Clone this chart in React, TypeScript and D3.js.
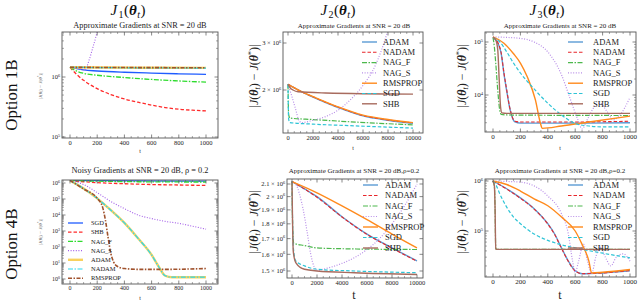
import React from "react";
import * as d3 from "d3";

type Pt = [number, number];

// ---------- data: [t, |J(θt) − J(θ*)|] ----------
const names4B = ["SGD", "SHB", "NAG_F", "NAG_S", "ADAM", "NADAM", "RMSPROP"];
const namesStd = ["ADAM", "NADAM", "NAG_F", "NAG_S", "RMSPROP", "SGD", "SHB"];

const ticks1k = [0, 200, 400, 600, 800, 1000];
const ticks10k = [0, 2000, 4000, 6000, 8000, 10000];

// J1, option 1B
const j1a_SGD: Pt[] = [[0, 1.45e6], [50, 1.38e6], [100, 1.31e6], [200, 1.26e6], [400, 1.2e6], [600, 1.16e6], [800, 1.13e6], [1000, 1.11e6]];
const j1a_SHB: Pt[] = [[0, 1.45e6], [50, 1.1e6], [100, 8.8e5], [200, 6.4e5], [300, 5.1e5], [400, 4.3e5], [500, 3.8e5], [600, 3.4e5], [700, 3.1e5], [800, 2.9e5], [900, 2.8e5], [1000, 2.72e5]];
const j1a_NAGF: Pt[] = [[0, 1.45e6], [50, 1.25e6], [100, 1.15e6], [200, 1.07e6], [400, 9.8e5], [600, 9.1e5], [800, 8.6e5], [1000, 8.2e5]];
const j1a_NAGS: Pt[] = [[0, 1.45e6], [60, 1.38e6], [110, 1.3e6], [140, 1.9e6], [170, 3.2e6], [200, 5.6e6]];
const j1a_ADAM: Pt[] = [[0, 1.45e6], [500, 1.43e6], [1000, 1.42e6]];
const j1a_NADAM: Pt[] = [[0, 1.45e6], [500, 1.42e6], [1000, 1.41e6]];
const j1a_RMSPROP: Pt[] = [[0, 1.45e6], [500, 1.435e6], [1000, 1.425e6]];

// J2, option 1B
const j2a_ADAM: Pt[] = [[0, 2.1e6], [1000, 1.98e6], [2000, 1.88e6], [4000, 1.72e6], [6000, 1.6e6], [8000, 1.54e6], [10000, 1.5e6]];
const j2a_NADAM: Pt[] = [[0, 2.1e6], [1000, 1.98e6], [2000, 1.885e6], [4000, 1.725e6], [6000, 1.605e6], [8000, 1.545e6], [10000, 1.505e6]];
const j2a_NAGF: Pt[] = [[0, 2.1e6], [50, 1.62e6], [150, 1.57e6], [2000, 1.55e6], [5000, 1.52e6], [10000, 1.48e6]];
const j2a_NAGS: Pt[] = [[0, 2.1e6], [300, 1.9e6], [600, 1.7e6], [900, 1.53e6], [1100, 1.51e6], [2000, 1.54e6], [3000, 1.59e6], [4000, 1.68e6], [5000, 1.84e6], [6000, 2.08e6], [7000, 2.48e6], [7500, 2.84e6], [8000, 3.35e6]];
const j2a_RMSPROP: Pt[] = [[0, 2.1e6], [1000, 1.98e6], [2000, 1.89e6], [4000, 1.73e6], [6000, 1.61e6], [8000, 1.55e6], [10000, 1.51e6]];
const j2a_SGD: Pt[] = [[0, 2.1e6], [50, 1.56e6], [150, 1.51e6], [2000, 1.49e6], [5000, 1.47e6], [10000, 1.44e6]];
const j2a_SHB: Pt[] = [[0, 2.1e6], [200, 2.03e6], [400, 2.0e6], [800, 1.97e6], [3000, 1.95e6], [10000, 1.93e6]];

// J3, option 1B
const j3a_ADAM: Pt[] = [[0, 1.22e5], [40, 9e4], [60, 6e4], [80, 2.5e4], [100, 1.2e4], [120, 6e3], [140, 3.8e3], [160, 3.1e3], [200, 2.95e3], [600, 2.95e3], [1000, 3.0e3]];
const j3a_NADAM: Pt[] = [[0, 1.22e5], [40, 9.2e4], [60, 6.2e4], [80, 2.6e4], [100, 1.25e4], [120, 6.2e3], [140, 3.9e3], [160, 3.2e3], [200, 3.1e3], [600, 3.1e3], [1000, 3.2e3]];
const j3a_NAGF: Pt[] = [[0, 1.22e5], [10, 8e4], [20, 4e4], [35, 1.2e4], [50, 5e3], [60, 4.3e3], [100, 4.2e3], [1000, 4.1e3]];
const j3a_NAGS: Pt[] = [[0, 1.25e5], [100, 1.22e5], [200, 1.17e5], [300, 1.0e5], [400, 6.5e4], [500, 2.4e4], [560, 9e3], [620, 3.4e3], [650, 2.3e3], [690, 3.5e3], [740, 6e3], [780, 7e3], [830, 5e3], [880, 3.4e3], [920, 4e3], [1000, 9e3]];
const j3a_RMSPROP: Pt[] = [[0, 1.25e5], [80, 9.5e4], [150, 6e4], [200, 4e4], [250, 2.2e4], [310, 8e3], [345, 3e3], [360, 2.35e3], [500, 2.6e3], [700, 3.1e3], [1000, 4e3]];
const j3a_SGD: Pt[] = [[0, 1.22e5], [50, 1e5], [100, 6.5e4], [150, 4e4], [200, 2.6e4], [300, 1.3e4], [400, 7e3], [500, 4.2e3], [600, 2.9e3], [700, 2.6e3], [800, 2.5e3], [1000, 2.5e3]];
const j3a_SHB: Pt[] = [[0, 1.22e5], [20, 1.1e5], [35, 7e4], [45, 2e4], [55, 6e3], [65, 4.6e3], [100, 4.5e3], [1000, 4.5e3]];

// J1, option 4B
const j1b_SGD: Pt[] = [[0, 1.45e6], [200, 1.4e6], [500, 1.35e6], [1000, 1.3e6]];
const j1b_SHB: Pt[] = [[0, 1.45e6], [100, 1.2e6], [200, 1.05e6], [400, 9e5], [600, 8e5], [800, 7.5e5], [1000, 7e5]];
const j1b_NAGF: Pt[] = [[0, 1.45e6], [200, 1.3e6], [500, 1.2e6], [1000, 1.15e6]];
const j1b_NAGS: Pt[] = [[0, 1.45e6], [100, 8e5], [200, 2.5e5], [300, 7e4], [400, 2.5e4], [500, 1e4], [600, 6e3], [700, 4e3], [800, 3e3], [900, 2e3], [1000, 1.3e3]];
const j1b_ADAM: Pt[] = [[0, 1.45e6], [100, 4.5e5], [200, 1.1e5], [300, 2e4], [400, 3.2e3], [500, 3.5e2], [600, 3.2e1], [650, 6.3], [700, 1.6], [750, 1.3], [1000, 1.3]];
const j1b_NADAM: Pt[] = [[0, 1.45e6], [100, 4.5e5], [200, 1.1e5], [300, 2e4], [400, 3.2e3], [500, 3.5e2], [600, 3.2e1], [650, 6.3], [700, 1.6], [750, 1.3], [1000, 1.3]];
const j1b_RMSPROP: Pt[] = [[0, 1.45e6], [100, 4.2e5], [200, 1.1e5], [240, 3e4], [260, 5e3], [280, 4e2], [300, 4e1], [320, 1.2e1], [350, 6], [400, 4.5], [500, 4], [700, 4], [1000, 4.5]];

// J2, option 4B
const j2b_ADAM: Pt[] = [[0, 2.12e6], [1000, 2.06e6], [2000, 2.0e6], [4000, 1.85e6], [6000, 1.73e6], [8000, 1.64e6], [10000, 1.56e6]];
const j2b_NADAM: Pt[] = [[0, 2.12e6], [1000, 2.06e6], [2000, 1.995e6], [4000, 1.848e6], [6000, 1.728e6], [8000, 1.638e6], [10000, 1.558e6]];
const j2b_NAGF: Pt[] = [[0, 2.12e6], [60, 1.75e6], [150, 1.67e6], [1000, 1.655e6], [2000, 1.64e6], [4000, 1.635e6], [10000, 1.63e6]];
const j2b_NAGS: Pt[] = [[0, 2.12e6], [300, 2.1e6], [600, 2.02e6], [900, 1.9e6], [1200, 1.75e6], [1500, 1.6e6], [1800, 1.52e6], [2000, 1.505e6], [3000, 1.52e6], [4000, 1.545e6], [5000, 1.58e6], [6000, 1.63e6], [7000, 1.7e6], [8000, 1.8e6], [9000, 1.93e6], [10000, 2.1e6]];
const j2b_RMSPROP: Pt[] = [[0, 2.12e6], [2000, 2.03e6], [4000, 1.93e6], [6000, 1.83e6], [8000, 1.73e6], [10000, 1.64e6]];
const j2b_SGD: Pt[] = [[0, 2.12e6], [100, 1.65e6], [300, 1.56e6], [1000, 1.53e6], [2000, 1.51e6], [5000, 1.5e6], [10000, 1.49e6]];
const j2b_SHB: Pt[] = [[0, 2.12e6], [100, 1.62e6], [300, 1.55e6], [1000, 1.51e6], [2000, 1.5e6], [5000, 1.49e6], [10000, 1.48e6]];

// J3, option 4B
const j3b_ADAM: Pt[] = [[0, 1e6], [100, 7e5], [200, 4.6e5], [300, 2.8e5], [400, 1.4e5], [450, 8.7e4], [500, 4.6e4], [550, 2.5e4], [600, 1.6e4], [650, 1.4e4], [800, 1.45e4], [1000, 1.6e4]];
const j3b_NADAM: Pt[] = [[0, 1e6], [100, 6.9e5], [200, 4.5e5], [300, 2.75e5], [400, 1.38e5], [450, 8.5e4], [500, 4.5e4], [550, 2.45e4], [600, 1.58e4], [650, 1.4e4], [800, 1.45e4], [1000, 1.62e4]];
const j3b_NAGF: Pt[] = [[0, 1e6], [10, 8e5], [15, 3e5], [20, 4.4e4], [30, 4.3e4], [1000, 4.3e4]];
const j3b_NAGS: Pt[] = [[0, 1e6], [100, 9.8e5], [200, 9.5e5], [300, 8e5], [400, 5e5], [500, 2.2e5], [550, 8.7e4], [580, 2.6e4], [600, 1.5e4], [625, 2.5e4], [660, 5.5e4], [690, 2.5e4], [720, 1.4e4], [750, 3e4], [780, 4.8e4], [820, 3e4], [860, 2e4], [900, 3e4], [950, 3.5e4], [1000, 2.5e4]];
const j3b_RMSPROP: Pt[] = [[0, 1e6], [100, 8.5e5], [200, 6.3e5], [300, 4.4e5], [400, 3.2e5], [500, 1.9e5], [600, 1e5], [650, 5.4e4], [700, 2.5e4], [720, 1.45e4], [800, 1.5e4], [1000, 1.7e4]];
const j3b_SGD: Pt[] = [[0, 1e6], [25, 8e5], [50, 5.5e5], [100, 3e5], [150, 1.9e5], [200, 1.4e5], [300, 8.7e4], [400, 6.5e4], [500, 5.3e4], [600, 4.6e4], [800, 3.6e4], [1000, 2.9e4]];
const j3b_SHB: Pt[] = [[0, 1e6], [10, 8e5], [15, 3e5], [20, 4.4e4], [30, 4.3e4], [1000, 4.3e4]];

const yTicksJ2a = [2e6, 3e6];
const yTicksJ2b = [1.5e6, 1.6e6, 1.7e6, 1.8e6, 1.9e6, 2e6, 2.1e6];

// ---------- styles ----------
type Sty = { c: string; d: string; w: number };
const stdStyle: Record<string, Sty> = {
  ADAM: { c: "#5b9bd5", d: "", w: 1.4 },
  NADAM: { c: "#e8262b", d: "3.5,2", w: 1.1 },
  NAG_F: { c: "#4cb84c", d: "5,1.5,1.5,1.5", w: 1.2 },
  NAG_S: { c: "#b88ee8", d: "1,1.6", w: 1.2 },
  RMSPROP: { c: "#ff8a1c", d: "", w: 1.4 },
  SGD: { c: "#2ec4d6", d: "3.5,2", w: 1.2 },
  SHB: { c: "#a86b5e", d: "", w: 1.4 },
};
const altStyle: Record<string, Sty> = {
  SGD: { c: "#1f5cff", d: "", w: 1.3 },
  SHB: { c: "#ff2a2a", d: "3.5,2", w: 1.3 },
  NAG_F: { c: "#2fdc2f", d: "5,1.5,1.5,1.5", w: 1.3 },
  NAG_S: { c: "#a35ee8", d: "1,1.6", w: 1.1 },
  ADAM: { c: "#f8d15e", d: "", w: 2.4 },
  NADAM: { c: "#2ad8ee", d: "5,1.5,1.5,1.5", w: 1.2 },
  RMSPROP: { c: "#a0522d", d: "4,1.5,1.5,1.5", w: 1.6 },
};

const serif = "Liberation Serif, DejaVu Serif, serif";

type Cfg = {
  id: string;
  box: [number, number, number, number]; // left, top, right, bottom
  xDom: [number, number]; xRange: [number, number];
  yDom: [number, number]; yRange: [number, number];
  xTicks: number[]; xMinor: number;
  yTicks: number[]; yFmt: "pow" | "mant";
  series: Record<string, Pt[]>; order: string[]; sty: Record<string, Sty>;
  title: string; titleX: number; titleY: number; titleSize: number;
  legend?: { x0: number; x1: number; tx: number; y0: number; dy: number; fs: number; order: string[] };
  tickFs: number;
  yLab: { x: number; y: number; fs: number; color: string };
  tLab: { x: number; y: number; fs: number };
};

const YLabel = ({ x, y, fs, color }: { x: number; y: number; fs: number; color: string }) => (
  <text transform={`translate(${x},${y}) rotate(-90)`} textAnchor="middle" fontFamily={serif} fontSize={fs} fill={color}>
    <tspan>|</tspan><tspan fontStyle="italic">J</tspan><tspan>(</tspan>
    <tspan fontStyle="italic" fontWeight="bold">θ</tspan>
    <tspan fontStyle="italic" fontSize={fs * 0.65} dy={fs * 0.2}>t</tspan>
    <tspan dy={-fs * 0.2}>) − </tspan><tspan fontStyle="italic">J</tspan><tspan>(</tspan>
    <tspan fontStyle="italic" fontWeight="bold">θ</tspan>
    <tspan fontSize={fs * 0.65} dy={-fs * 0.35}>*</tspan>
    <tspan dy={fs * 0.35}>)|</tspan>
  </text>
);

function Panel({ c }: { c: Cfg }) {
  const [L, T, R, B] = c.box;
  const x = d3.scaleLinear().domain(c.xDom).range(c.xRange);
  const y = d3.scaleLog().domain(c.yDom).range(c.yRange);
  const line = d3.line<Pt>().x((d) => x(d[0])).y((d) => y(d[1])).curve(d3.curveMonotoneX);

  const xMin: number[] = [];
  for (let v = -4 * c.xMinor; v <= c.xDom[1] + 4 * c.xMinor; v += c.xMinor) {
    const p = x(v);
    if (p > L + 0.5 && p < R - 0.5 && !c.xTicks.includes(v)) xMin.push(p);
  }
  const yMaj = c.yFmt === "pow" ? d3.range(-1, 8).map((k) => Math.pow(10, k)) : c.yTicks;
  const yMin: number[] = [];
  for (let k = -1; k < 8; k++) {
    for (let m = 2; m <= 9; m++) {
      const v = m * Math.pow(10, k);
      const p = y(v);
      if (p > T + 0.5 && p < B - 0.5 && (c.yFmt === "pow" || !c.yTicks.includes(v))) yMin.push(p);
    }
  }
  const yMajIn = yMaj.filter((v) => y(v) >= T - 0.5 && y(v) <= B + 0.5);
  const tc = "#555";

  return (
    <g>
      <defs>
        <clipPath id={c.id}><rect x={L} y={T} width={R - L} height={B - T} /></clipPath>
      </defs>
      <text x={c.titleX} y={c.titleY} textAnchor="middle" fontFamily={serif} fontSize={c.titleSize} fill="#222">{c.title}</text>
      <g clipPath={`url(#${c.id})`}>
        {c.order.map((n) => (
          <path key={n} d={line(c.series[n]) || ""} fill="none" stroke={c.sty[n].c} strokeWidth={c.sty[n].w}
            strokeDasharray={c.sty[n].d} strokeLinejoin="round" />
        ))}
      </g>
      <rect x={L} y={T} width={R - L} height={B - T} fill="none" stroke={tc} strokeWidth={0.9} />
      {c.xTicks.map((v) => (
        <g key={"xt" + v}>
          <line x1={x(v)} x2={x(v)} y1={B} y2={B - 3.5} stroke={tc} strokeWidth={0.7} />
          <line x1={x(v)} x2={x(v)} y1={T} y2={T + 3.5} stroke={tc} strokeWidth={0.7} />
          <text x={x(v)} y={B + 2} dominantBaseline="hanging" textAnchor="middle" fontFamily={serif} fontSize={c.tickFs} fill="#222">{v}</text>
        </g>
      ))}
      {xMin.map((p, i) => (
        <g key={"xm" + i}>
          <line x1={p} x2={p} y1={B} y2={B - 2} stroke={tc} strokeWidth={0.5} />
          <line x1={p} x2={p} y1={T} y2={T + 2} stroke={tc} strokeWidth={0.5} />
        </g>
      ))}
      {yMajIn.map((v) => {
        const p = y(v);
        const e = Math.round(Math.log10(v));
        return (
          <g key={"yt" + v}>
            <line x1={L} x2={L + 3.5} y1={p} y2={p} stroke={tc} strokeWidth={0.7} />
            <line x1={R} x2={R - 3.5} y1={p} y2={p} stroke={tc} strokeWidth={0.7} />
            {c.yFmt === "pow" ? (
              <text x={L - 2} y={p + c.tickFs * 0.35} textAnchor="end" fontFamily={serif} fontSize={c.tickFs} fill="#222">
                10<tspan fontSize={c.tickFs * 0.65} dy={-c.tickFs * 0.4}>{e}</tspan>
              </text>
            ) : (
              <text x={L - 2} y={p + c.tickFs * 0.35} textAnchor="end" fontFamily={serif} fontSize={c.tickFs} fill="#222">
                {d3.format(".2~f")(v / 1e6)} × 10<tspan fontSize={c.tickFs * 0.65} dy={-c.tickFs * 0.4}>6</tspan>
              </text>
            )}
          </g>
        );
      })}
      {yMin.map((p, i) => (
        <g key={"ym" + i}>
          <line x1={L} x2={L + 2} y1={p} y2={p} stroke={tc} strokeWidth={0.5} />
          <line x1={R} x2={R - 2} y1={p} y2={p} stroke={tc} strokeWidth={0.5} />
        </g>
      ))}
      {c.legend && c.legend.order.map((n, i) => {
        const lg = c.legend!;
        const yy = lg.y0 + i * lg.dy;
        return (
          <g key={"lg" + n}>
            <line x1={lg.x0} x2={lg.x1} y1={yy} y2={yy} stroke={c.sty[n].c} strokeWidth={c.sty[n].w} strokeDasharray={c.sty[n].d} />
            <text x={lg.tx} y={yy + lg.fs * 0.33} fontFamily={serif} fontSize={lg.fs} fill="#222">{n}</text>
          </g>
        );
      })}
      <YLabel {...c.yLab} />
      <text x={c.tLab.x} y={c.tLab.y} textAnchor="middle" fontFamily={serif} fontStyle="normal" fontSize={c.tLab.fs} fill="#222">t</text>
    </g>
  );
}

const rec = (arr: Pt[][], names: string[]) => Object.fromEntries(names.map((n, i) => [n, arr[i]]));

const panels: Cfg[] = [
  {
    id: "p1", box: [62, 32, 218, 138], xDom: [0, 1000], xRange: [70, 206], yDom: [1e5, 1e6], yRange: [137, 77],
    xTicks: ticks1k, xMinor: 50, yTicks: [], yFmt: "pow",
    series: rec([j1a_SGD, j1a_SHB, j1a_NAGF, j1a_NAGS, j1a_ADAM, j1a_NADAM, j1a_RMSPROP], names4B), order: names4B, sty: altStyle,
    title: "Approximate Gradients at SNR = 20 dB", titleX: 140, titleY: 28, titleSize: 8.3, tickFs: 6.5,
    yLab: { x: 42, y: 86, fs: 5, color: "#777" }, tLab: { x: 140, y: 153, fs: 6 },
  },
  {
    id: "p2", box: [283, 32, 423, 133], xDom: [0, 10000], xRange: [288, 413], yDom: [2e6, 3e6], yRange: [90, 43],
    xTicks: ticks10k, xMinor: 500, yTicks: yTicksJ2a, yFmt: "mant",
    series: rec([j2a_ADAM, j2a_NADAM, j2a_NAGF, j2a_NAGS, j2a_RMSPROP, j2a_SGD, j2a_SHB], namesStd), order: namesStd, sty: stdStyle,
    title: "Approximate Gradients at SNR = 20 dB", titleX: 354, titleY: 28, titleSize: 7,
    legend: { x0: 362, x1: 377, tx: 383, y0: 42, dy: 10.3, fs: 8.5, order: namesStd }, tickFs: 6.5,
    yLab: { x: 258, y: 76, fs: 12, color: "#222" }, tLab: { x: 353, y: 150, fs: 6 },
  },
  {
    id: "p3", box: [485, 32, 636, 132], xDom: [0, 1000], xRange: [493, 630], yDom: [1e4, 1e5], yRange: [95, 42],
    xTicks: ticks1k, xMinor: 50, yTicks: [], yFmt: "pow",
    series: rec([j3a_ADAM, j3a_NADAM, j3a_NAGF, j3a_NAGS, j3a_RMSPROP, j3a_SGD, j3a_SHB], namesStd), order: namesStd, sty: stdStyle,
    title: "Approximate Gradients at SNR = 20 dB", titleX: 560, titleY: 28, titleSize: 7,
    legend: { x0: 568, x1: 583, tx: 593, y0: 42, dy: 10.3, fs: 8.5, order: namesStd }, tickFs: 7,
    yLab: { x: 466, y: 76, fs: 12, color: "#222" }, tLab: { x: 560, y: 150, fs: 6 },
  },
  {
    id: "p4", box: [62, 180, 218, 284], xDom: [0, 1000], xRange: [70, 206], yDom: [1, 1e6], yRange: [279, 183],
    xTicks: ticks1k, xMinor: 50, yTicks: [], yFmt: "pow",
    series: rec([j1b_SGD, j1b_SHB, j1b_NAGF, j1b_NAGS, j1b_ADAM, j1b_NADAM, j1b_RMSPROP], names4B), order: names4B, sty: altStyle,
    title: "Noisy Gradients at SNR = 20 dB, ρ = 0.2", titleX: 140, titleY: 173, titleSize: 8.3,
    legend: { x0: 68, x1: 83, tx: 91, y0: 223, dy: 9.2, fs: 6.5, order: names4B }, tickFs: 6,
    yLab: { x: 42, y: 232, fs: 5, color: "#777" }, tLab: { x: 140, y: 300, fs: 6 },
  },
  {
    id: "p5", box: [287, 179, 423, 278], xDom: [0, 10000], xRange: [292, 417], yDom: [1.5e6, 2.1e6], yRange: [271, 184],
    xTicks: ticks10k, xMinor: 500, yTicks: yTicksJ2b, yFmt: "mant",
    series: rec([j2b_ADAM, j2b_NADAM, j2b_NAGF, j2b_NAGS, j2b_RMSPROP, j2b_SGD, j2b_SHB], namesStd), order: namesStd, sty: stdStyle,
    title: "Approximate Gradients at SNR = 20 dB,ρ=0.2", titleX: 354, titleY: 173, titleSize: 7,
    legend: { x0: 363, x1: 378, tx: 385, y0: 185, dy: 10.5, fs: 8.5, order: namesStd }, tickFs: 6.5,
    yLab: { x: 258, y: 222, fs: 12, color: "#222" }, tLab: { x: 354, y: 299, fs: 12 },
  },
  {
    id: "p6", box: [485, 179, 636, 277], xDom: [0, 1000], xRange: [493, 630], yDom: [1e5, 1e6], yRange: [231, 181],
    xTicks: ticks1k, xMinor: 50, yTicks: [], yFmt: "pow",
    series: rec([j3b_ADAM, j3b_NADAM, j3b_NAGF, j3b_NAGS, j3b_RMSPROP, j3b_SGD, j3b_SHB], namesStd), order: namesStd, sty: stdStyle,
    title: "Approximate Gradients at SNR = 20 dB,ρ=0.2", titleX: 560, titleY: 173, titleSize: 7,
    legend: { x0: 568, x1: 583, tx: 593, y0: 185, dy: 10.5, fs: 8.5, order: namesStd }, tickFs: 7,
    yLab: { x: 466, y: 222, fs: 12, color: "#222" }, tLab: { x: 560, y: 299, fs: 12 },
  },
];

const colTitles = [
  { x: 128, sub: "1" },
  { x: 338, sub: "2" },
  { x: 547, sub: "3" },
];
const rowTitles = [
  { y: 95, text: "Option 1B" },
  { y: 244, text: "Option 4B" },
];

export default function App() {
  return (
    <svg width={640} height={302} style={{ position: "absolute", left: 0, top: 0, background: "#fff" }}>
      {colTitles.map((t) => (
        <text key={t.sub} x={t.x} y={15} textAnchor="middle" fontFamily={serif} fontSize={15} fill="#111">
          <tspan fontStyle="italic">J</tspan>
          <tspan fontSize={10} dx={1.2} dy={2.5}>{t.sub}</tspan>
          <tspan dx={0.5} dy={-2.5}>(</tspan>
          <tspan fontStyle="italic" fontWeight="bold">θ</tspan>
          <tspan fontStyle="italic" fontSize={10} dx={0.5} dy={2.5}>t</tspan>
          <tspan dx={0.5} dy={-2.5}>)</tspan>
        </text>
      ))}
      {rowTitles.map((r) => (
        <text key={r.text} transform={`translate(17,${r.y}) rotate(-90)`} textAnchor="middle" fontFamily={serif} fontSize={17} fill="#111">
          {r.text}
        </text>
      ))}
      {panels.map((p) => <Panel key={p.id} c={p} />)}
    </svg>
  );
}
